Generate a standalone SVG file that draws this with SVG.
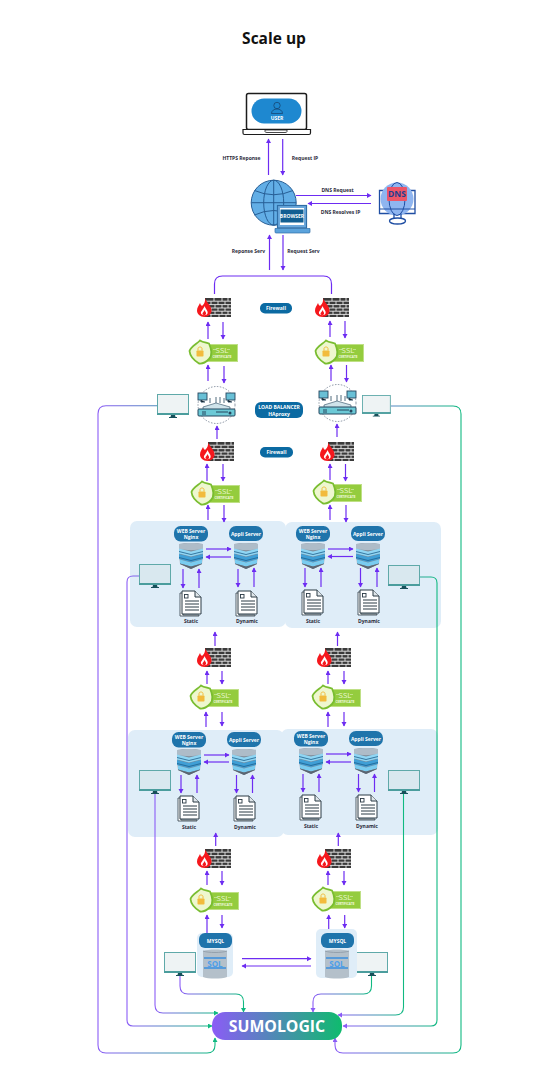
<svg xmlns="http://www.w3.org/2000/svg" width="552" height="1080" viewBox="0 0 552 1080">
<style>
text{font-family:"Open Sans","Noto Sans",sans-serif;font-weight:700}
.t{fill:#2b2b3a;font-size:5px;text-anchor:middle}
.p{fill:#fff;font-size:5px;text-anchor:middle}
.a{fill:none;stroke:#6d2cf2;stroke-width:1.2;marker-end:url(#ah)}
.l{fill:none;stroke:#6d2cf2;stroke-width:1.2}
.g{fill:none;stroke:url(#lg);stroke-width:1.1}
.pill{fill:#1f74ab}
.pill2{fill:#0b6aa2}
.panel{fill:#dfedf8}
.s1{fill:#eaf6cf;font-size:8px;font-weight:400;text-anchor:middle}
.s2{fill:#f4fbe2;font-size:3.1px;text-anchor:middle}
</style>
<defs>
<linearGradient id="lg" x1="0" y1="0" x2="1" y2="0"><stop offset="0" stop-color="#8b5cf6"/><stop offset="1" stop-color="#10b981"/></linearGradient>
<linearGradient id="sg" x1="0" y1="0" x2="1" y2="0"><stop offset="0" stop-color="#8b5cf6"/><stop offset="1" stop-color="#0fbb6e"/></linearGradient>
<marker id="ah" markerUnits="userSpaceOnUse" markerWidth="6" markerHeight="6" refX="4" refY="2.5" orient="auto"><path d="M0 0L4.500 2.500L0 5Z" fill="#6d2cf2"/></marker>
<marker id="ahg" markerUnits="userSpaceOnUse" markerWidth="6" markerHeight="6" refX="4" refY="2.5" orient="auto"><path d="M0 0L4.500 2.500L0 5Z" fill="#10b981"/></marker>
<marker id="ahp" markerUnits="userSpaceOnUse" markerWidth="6" markerHeight="6" refX="4" refY="2.5" orient="auto"><path d="M0 0L4.500 2.500L0 5Z" fill="#8b5cf6"/></marker>
<g id="fw">
<rect x="8" y="0" width="26" height="19" fill="#3a3a3a"/>
<path d="M8 3.200H34M8 6.600H34M8 10H34M8 13.200H34M8 16.400H34" stroke="#fff" stroke-width=".8"/>
<path d="M17 0V3M25 0V3M31 0V3M14 3.400V6.600M21 3.400V6.600M28 3.400V6.600M18 6.800V10M25 6.800V10M31 6.800V10M14 10V13M21 10V13M28 10V13M18 13.200V16.400M25 13.200V16.400M31 13.200V16.400M14 16.400V19M22 16.400V19M29 16.400V19" stroke="#fff" stroke-width=".8"/>
<path d="M8 0C9 4 14 7 14.500 12C15 16 11 19 7.500 19C3 19 0 16 0 12.500C0 9 2 7.500 3 5C4 8 5 8 5.500 7.500C7.500 6 8.500 3 8 0Z" fill="#f5181d"/>
<path d="M7.500 8C8.500 11 11.500 13 10.500 15.500C9.800 17.700 5 17.800 4 15.500C3.500 13 6.500 11.500 7.500 8Z" fill="#fff"/>
<path d="M7.500 12C8 13.500 9.500 14.500 9 16C8.500 17.500 6 17.500 5.500 16C5.300 14.500 7 14 7.500 12Z" fill="#f5181d"/>
</g>
<g id="ssl">
<rect x="16" y="4" width="33" height="18" fill="#bfe086"/>
<rect x="17" y="5" width="31" height="16" fill="#94cc3e"/>
<path d="M24 9.500H27M38 9.500H41" stroke="#eaf6cf" stroke-width=".5"/>
<path d="M11 .5C14 2.500 17 2.500 20 3.500C22 8 24 15 20 19C17 22 13 24 10 23.500C6 21 1 17 .5 11C2 6 8 4 11 .5Z" fill="#eef7cf" stroke="#79bd30" stroke-width="1.800"/>
<rect x="7.500" y="10.500" width="7" height="6" rx=".8" fill="#f2bb3c"/>
<path d="M9 10.500V8.500C9 6.500 13 6.500 13 8.500V10.500" fill="none" stroke="#f2bb3c" stroke-width="1"/>
</g>
<g id="mon">
<rect x=".5" y=".5" width="31" height="19.500" fill="#eef3f4" stroke="#5fa9a9" stroke-width="1"/>
<rect x="0" y="19" width="32" height="2" fill="#4b9d9d"/>
<path d="M14 21H18L18.500 23H20V24H12V23H13.500Z" fill="#17505a"/>
</g>
<g id="mon2">
<rect x=".5" y=".5" width="31" height="19.500" fill="#d9e8ef" stroke="#5fa9a9" stroke-width="1"/>
<rect x="0" y="19" width="32" height="2" fill="#4b9d9d"/>
<path d="M14 21H18L18.500 23H20V24H12V23H13.500Z" fill="#17505a"/>
</g>
<g id="srv">
<path d="M1 2C8 .5 18 .5 25 2V8L24 22L13 27L2 22L1 8Z" fill="#7f8b98"/>
<path d="M1 2C8 .5 18 .5 25 2V7C18 8.500 8 8.500 1 7Z" fill="#aebcc8"/>
<path d="M1 6.500L13 9.500L25 6.500V11.500L13 14.500L1 11.500Z" fill="#8fd6f4"/>
<path d="M1 12L13 15L25 12V17L13 20L1 17Z" fill="#3f9fd6"/>
<path d="M2 17.500L13 20.500L24 17.500V21.500L13 24.500L2 21.500Z" fill="#79ccf0"/>
<path d="M1 9.500L13 12.500L25 9.500M1 15.500L13 18.500L25 15.500" fill="none" stroke="#1f5f8c" stroke-width=".8"/>
<path d="M2 21.500L13 24.500V27L2 22ZM24 21.500L13 24.500V27L24 22Z" fill="#5b6672"/>
</g>
<g id="doc">
<path d="M0 3H3V25H19V26H0Z" fill="#fff" stroke="#2b3a45" stroke-width=".8"/>
<path d="M2 1H15L21 7V24H2Z" fill="#fff" stroke="#2b3a45" stroke-width="1"/>
<path d="M15 1V7H21" fill="#dfe6ea" stroke="#2b3a45" stroke-width="1"/>
<rect x="4.500" y="4.500" width="3.500" height="3.500" fill="#fff" stroke="#2b3a45" stroke-width=".9"/>
<path d="M5 11H19M5 14H19M5 17H19M5 20H19" stroke="#2b3a45" stroke-width="1.100"/>
</g>
<g id="lb">
<circle cx="18.500" cy="19" r="18.500" fill="#fff" stroke="#3d4f66" stroke-width=".6" stroke-dasharray="1.500 1.500"/>
<rect x="0" y="7" width="9" height="7" fill="#69c0d6" stroke="#27465e" stroke-width=".9"/>
<rect x="28" y="7" width="9" height="7" fill="#69c0d6" stroke="#27465e" stroke-width=".9"/>
<path d="M3 14V16H7M30 14V16H34" stroke="#27465e"/>
<path d="M12 17V12M18 17V11M22 11V17M26 17V12" stroke="#27465e" stroke-width=".8"/>
<path d="M5 21L18 17L32 21V24H5Z" fill="#cfe3ea" stroke="#27465e" stroke-width=".6"/>
<rect x="0" y="23" width="37" height="7" rx="1" fill="#6cc9d6" stroke="#27465e" stroke-width="1"/>
<path d="M4 26H8M18 26H30M4 28H8" stroke="#27465e"/>
<circle cx="32" cy="27" r="1.500" fill="#27465e"/>
</g>
<g id="cyl">
<path d="M0 2C5 0 19 0 24 2V28C19 30 5 30 0 28Z" fill="#b4c0ca"/>
<path d="M0 2C5 4 19 4 24 2" fill="none" stroke="#8b98a5" stroke-width=".8"/>
<path d="M1 9H23M1 19H23" stroke="#3a8fde" stroke-width="1.500"/>
</g>
</defs>

<text x="274" y="44" text-anchor="middle" font-size="15.500" fill="#111">Scale up</text>

<rect class="panel" x="130" y="521" width="156" height="106" rx="7"/>
<rect class="panel" x="285" y="522" width="156" height="106" rx="7"/>
<rect class="panel" x="128" y="730" width="156" height="107" rx="7"/>
<rect class="panel" x="281" y="729" width="157" height="106" rx="7"/>

<g id="connectors">
<path class="a" d="M268.500 175V139"/><path class="a" d="M282.700 139V175"/>
<path class="a" d="M296 195.500H371"/><path class="a" d="M371 203.500H308"/>
<path class="a" d="M269.500 270V235"/><path class="a" d="M283 235V270"/>
<path class="l" d="M214.500 294V284Q214.500 276 222.500 276H323.500Q331.500 276 331.500 284V294"/>
<path class="a" d="M208 339V322"/><path class="a" d="M223 322V339"/>
<path class="a" d="M208 381V365"/><path class="a" d="M224 366V383"/>
<path class="a" d="M217 439V426"/>
<path class="a" d="M207 481V464"/><path class="a" d="M223 464V481"/>
<path class="a" d="M208 520V505"/><path class="a" d="M224 505V522"/>
<path class="a" d="M330 337V321"/><path class="a" d="M345 321V338"/>
<path class="a" d="M331 381V365"/><path class="a" d="M346.500 365V382"/>
<path class="a" d="M337 437V424"/>
<path class="a" d="M330 480V464"/><path class="a" d="M345.500 464V481"/>
<path class="a" d="M330 520V505"/><path class="a" d="M346 505V522"/>

<path class="a" d="M206 549H231"/><path class="a" d="M231 557H206"/>
<path class="a" d="M183 569V588"/><path class="a" d="M199 588V569"/>
<path class="a" d="M238 569V587"/><path class="a" d="M254 587V568"/>
<path class="a" d="M328 549H353"/><path class="a" d="M353 556.500H328"/>
<path class="a" d="M305 568V587"/><path class="a" d="M321 587V568"/>
<path class="a" d="M360.500 568V587"/><path class="a" d="M377 587V568"/>

<path class="a" d="M215 646V632"/><path class="a" d="M337.500 646V632"/>
<path class="a" d="M207 684V671"/><path class="a" d="M222 671V684"/>
<path class="a" d="M328 684V671"/><path class="a" d="M344 671V684"/>
<path class="a" d="M206 727V712"/><path class="a" d="M222 712V726"/>
<path class="a" d="M328 727V712"/><path class="a" d="M344 712V726"/>

<path class="a" d="M204 755H229"/><path class="a" d="M229 762H204"/>
<path class="a" d="M181 775V793"/><path class="a" d="M197 793V775"/>
<path class="a" d="M236.500 775V793"/><path class="a" d="M252.500 793V775"/>
<path class="a" d="M326 754H351"/><path class="a" d="M351 762H326"/>
<path class="a" d="M303 774V792"/><path class="a" d="M319 792V774"/>
<path class="a" d="M358.500 774V792"/><path class="a" d="M374.500 792V774"/>

<path class="a" d="M215.700 846V833"/><path class="a" d="M338.300 846V833"/>
<path class="a" d="M207 885V871"/><path class="a" d="M222 871V885"/>
<path class="a" d="M328 885V871"/><path class="a" d="M344 871V885"/>
<path class="a" d="M207 933V915"/><path class="a" d="M222 915V928"/>
<path class="a" d="M328.700 929V915"/><path class="a" d="M344.700 915V928"/>
<path class="a" d="M242 958.700H311"/><path class="a" d="M311 966H242"/>

<path class="g" marker-end="url(#ahg)" d="M157 405.800H106Q98 405.800 98 413.800V1045Q98 1053 106 1053H207Q215 1053 215 1045V1038"/>
<path class="g" marker-end="url(#ahp)" d="M391 406H453Q461 406 461 414V1045Q461 1053 453 1053H343Q335 1053 335 1045V1038"/>
<path class="g" marker-end="url(#ahg)" d="M139 576H133Q127 576 127 582V1020Q127 1026 133 1026H212"/>
<path class="g" marker-end="url(#ahp)" d="M419 577H431Q437 577 437 583V1020Q437 1026 431 1026H343"/>
<path class="g" marker-end="url(#ahg)" d="M155 794V1005Q155 1013 163 1013H218"/>
<path class="g" marker-end="url(#ahp)" d="M403.500 794V1007Q403.500 1015 395.500 1015H338"/>
<path class="g" marker-end="url(#ahg)" d="M180 976V986Q180 994 188 994H236Q243.500 994 243.500 1002V1012"/>
<path class="g" marker-end="url(#ahp)" d="M371.500 976V986Q371.500 994 363.500 994H321Q313 994 313 1002V1012"/>
</g>

<g id="user">
<rect x="246.500" y="93.500" width="60" height="36" rx="2" fill="#fff" stroke="#1c1c1c" stroke-width="1.500"/>
<path d="M243 129.500H310.500V133Q310.500 134.500 309 134.500H244.500Q243 134.500 243 133Z" fill="#fff" stroke="#1c1c1c" stroke-width="1.200"/>
<path d="M265 130H287V131.500Q287 132.500 285 132.500H267Q265 132.500 265 131.500Z" fill="#fff" stroke="#1c1c1c" stroke-width=".8"/>
<rect x="251.500" y="98.500" width="50" height="25" rx="12.500" fill="#1e88d0"/>
<circle cx="277" cy="105.500" r="3.200" fill="none" stroke="#143e68" stroke-width=".7"/>
<path d="M271.500 113.500C271.500 107.500 282.500 107.500 282.500 113.500Z" fill="none" stroke="#143e68" stroke-width=".7"/>
<text class="p" x="277" y="120">USER</text>
</g>

<g id="browser">
<circle cx="273.700" cy="202.700" r="22.500" fill="#62aee6" stroke="#275e95" stroke-width="1"/>
<ellipse cx="273.700" cy="202.700" rx="10" ry="22.500" fill="none" stroke="#275e95" stroke-width="1"/>
<path d="M273.700 180.200V225.200M251.200 202.700H296.200M254.500 190.500Q273.700 199 293 190.500M254.500 215Q273.700 206 293 215" fill="none" stroke="#275e95" stroke-width="1"/>
<rect x="277.500" y="205.500" width="29" height="22.500" fill="#6ba8dc" stroke="#2e6da6" stroke-width="1.200"/>
<rect x="280" y="208" width="24" height="17" fill="#fff"/>
<rect x="280.500" y="209.500" width="23" height="13" fill="#125f92"/>
<text class="p" x="292" y="218.200">BROWSER</text>
<path d="M275 228.500H310V232Q310 233 309 233H276Q275 233 275 232Z" fill="#5ba3dc" stroke="#2e6da6" stroke-width=".7"/>
</g>

<g id="dns">
<path d="M379.500 190.500H415V213.500H379.500Z" fill="#fff" stroke="#1f4ea3" stroke-width="1.300"/>
<circle cx="397" cy="199" r="16.500" fill="#8fb5f0"/>
<ellipse cx="397" cy="199" rx="8" ry="16.500" fill="none" stroke="#1f4ea3" stroke-width="1"/>
<path d="M380 209H415" stroke="#1f4ea3" stroke-width="1"/>
<rect x="387" y="187" width="20" height="14" rx="1" fill="#ec5568"/>
<text x="397" y="197.300" text-anchor="middle" font-size="8.500" fill="#1f3f8f">DNS</text>
<path d="M394 213.500V218M401 213.500V218" stroke="#1f4ea3" stroke-width="1.300"/>
<ellipse cx="397.500" cy="221" rx="8" ry="3" fill="#fff" stroke="#1f4ea3" stroke-width="1.300"/>
</g>

<g id="fw1l"><use href="#fw" x="197" y="298"/></g>
<g id="fw1r"><use href="#fw" x="315" y="298"/></g>
<g id="fw2l"><use href="#fw" x="200" y="442"/></g>
<g id="fw2r"><use href="#fw" x="320" y="442"/></g>
<g id="fw3l"><use href="#fw" x="197" y="648"/></g>
<g id="fw3r"><use href="#fw" x="317" y="648"/></g>
<g id="fw4l"><use href="#fw" x="197" y="849"/></g>
<g id="fw4r"><use href="#fw" x="317" y="849"/></g>

<g id="ssl1l" transform="translate(189,340)"><use href="#ssl"/><text class="s1" x="33" y="13">SSL</text><text class="s2" x="33" y="18">CERTIFICATE</text></g>
<g id="ssl1r" transform="translate(315,340)"><use href="#ssl"/><text class="s1" x="33" y="13">SSL</text><text class="s2" x="33" y="18">CERTIFICATE</text></g>
<g id="ssl2l" transform="translate(191,481)"><use href="#ssl"/><text class="s1" x="33" y="13">SSL</text><text class="s2" x="33" y="18">CERTIFICATE</text></g>
<g id="ssl2r" transform="translate(313,480)"><use href="#ssl"/><text class="s1" x="33" y="13">SSL</text><text class="s2" x="33" y="18">CERTIFICATE</text></g>
<g id="ssl3l" transform="translate(190,685)"><use href="#ssl"/><text class="s1" x="33" y="13">SSL</text><text class="s2" x="33" y="18">CERTIFICATE</text></g>
<g id="ssl3r" transform="translate(312,685)"><use href="#ssl"/><text class="s1" x="33" y="13">SSL</text><text class="s2" x="33" y="18">CERTIFICATE</text></g>
<g id="ssl4l" transform="translate(190,888)"><use href="#ssl"/><text class="s1" x="33" y="13">SSL</text><text class="s2" x="33" y="18">CERTIFICATE</text></g>
<g id="ssl4r" transform="translate(312,887)"><use href="#ssl"/><text class="s1" x="33" y="13">SSL</text><text class="s2" x="33" y="18">CERTIFICATE</text></g>

<g id="lbl"><use href="#lb" x="198" y="386"/></g>
<g id="lbr"><use href="#lb" x="319" y="384"/></g>

<g id="mon1"><use href="#mon" x="157" y="394"/></g>
<g id="mon2r"><use href="#mon" transform="translate(362,395) scale(.9)"/></g>
<g id="mon3"><use href="#mon2" x="139" y="564"/></g>
<g id="mon4"><use href="#mon2" x="388" y="565"/></g>
<g id="mon5"><use href="#mon2" x="139" y="770"/></g>
<g id="mon6"><use href="#mon2" x="388" y="770"/></g>
<g id="mon7"><use href="#mon" x="164" y="952"/></g>
<g id="mon8"><use href="#mon" x="356" y="952"/></g>

<g id="label-fw1"><rect class="pill2" x="260" y="303" width="32" height="10.500" rx="5"/><text class="p" x="276" y="310">Firewall</text></g>
<g id="label-fw2"><rect class="pill2" x="260" y="447" width="33" height="10.500" rx="5"/><text class="p" x="276.500" y="454">Firewall</text></g>
<g id="label-lb"><rect class="pill2" x="255" y="402" width="48" height="16" rx="6"/><text class="p" x="279" y="409">LOAD BALANCER</text><text class="p" x="279" y="415.500">HAproxy</text></g>

<g id="web-a"><use href="#srv" x="178" y="542"/><rect class="pill" x="174" y="526" width="34" height="15.500" rx="6.500"/><text class="p" x="191" y="532.500">WEB Server</text><text class="p" x="191" y="539">Nginx</text></g>
<g id="app-a"><use href="#srv" x="233" y="542"/><rect class="pill" x="229" y="526" width="34" height="15" rx="7"/><text class="p" x="246" y="535.500">Appli Server</text></g>
<g id="static-a"><use href="#doc" x="180" y="590"/><text class="t" x="191" y="623">Static</text></g>
<g id="dyn-a"><use href="#doc" x="236" y="590"/><text class="t" x="247" y="623">Dynamic</text></g>

<g id="web-b"><use href="#srv" x="300" y="542"/><rect class="pill" x="296" y="526" width="34" height="15.500" rx="6.500"/><text class="p" x="313" y="532.500">WEB Server</text><text class="p" x="313" y="539">Nginx</text></g>
<g id="app-b"><use href="#srv" x="355" y="542"/><rect class="pill" x="351" y="526" width="34" height="15" rx="7"/><text class="p" x="368" y="535.500">Appli Server</text></g>
<g id="static-b"><use href="#doc" x="302" y="589"/><text class="t" x="313" y="623">Static</text></g>
<g id="dyn-b"><use href="#doc" x="358" y="589"/><text class="t" x="369" y="623">Dynamic</text></g>

<g id="web-c"><use href="#srv" x="176" y="748"/><rect class="pill" x="172" y="732" width="34" height="15.500" rx="6.500"/><text class="p" x="189" y="738.500">WEB Server</text><text class="p" x="189" y="745">Nginx</text></g>
<g id="app-c"><use href="#srv" x="231" y="748"/><rect class="pill" x="227" y="732" width="34" height="15" rx="7"/><text class="p" x="244" y="741.500">Appli Server</text></g>
<g id="static-c"><use href="#doc" x="178" y="795"/><text class="t" x="189" y="829">Static</text></g>
<g id="dyn-c"><use href="#doc" x="234" y="795"/><text class="t" x="245" y="829">Dynamic</text></g>

<g id="web-d"><use href="#srv" x="298" y="747"/><rect class="pill" x="294" y="731" width="34" height="15.500" rx="6.500"/><text class="p" x="311" y="737.500">WEB Server</text><text class="p" x="311" y="744">Nginx</text></g>
<g id="app-d"><use href="#srv" x="353" y="747"/><rect class="pill" x="349" y="731" width="34" height="15" rx="7"/><text class="p" x="366" y="740.500">Appli Server</text></g>
<g id="static-d"><use href="#doc" x="300" y="794"/><text class="t" x="311" y="828">Static</text></g>
<g id="dyn-d"><use href="#doc" x="356" y="794"/><text class="t" x="367" y="828">Dynamic</text></g>

<g id="mysql-l"><rect class="panel" x="197" y="933" width="36" height="44" rx="5"/><use href="#cyl" x="203" y="949"/><text x="215" y="966.500" text-anchor="middle" font-size="8" fill="#4d9fea">SQL</text><rect class="pill" x="199" y="933" width="33" height="15" rx="6"/><text class="p" x="215.500" y="942.500">MYSQL</text></g>
<g id="mysql-r"><rect class="panel" x="316" y="929" width="41" height="49" rx="5"/><use href="#cyl" x="325" y="949"/><text x="337" y="966.500" text-anchor="middle" font-size="8" fill="#4d9fea">SQL</text><rect class="pill" x="321" y="933" width="33" height="15" rx="6"/><text class="p" x="337.500" y="942.500">MYSQL</text></g>

<g id="sumologic"><rect x="212" y="1012" width="130" height="28" rx="13" fill="url(#sg)"/><text x="277" y="1032" text-anchor="middle" font-size="15.800" fill="#fff">SUMOLOGIC</text></g>

<g id="edge-labels">
<text class="t" x="241.500" y="160">HTTPS Reponse</text>
<text class="t" x="305" y="160">Request IP</text>
<text class="t" x="337.500" y="192">DNS Request</text>
<text class="t" x="340.500" y="214">DNS Resolves IP</text>
<text class="t" x="248.500" y="253">Reponse Serv</text>
<text class="t" x="303.500" y="253">Request Serv</text>
</g>
</svg>
